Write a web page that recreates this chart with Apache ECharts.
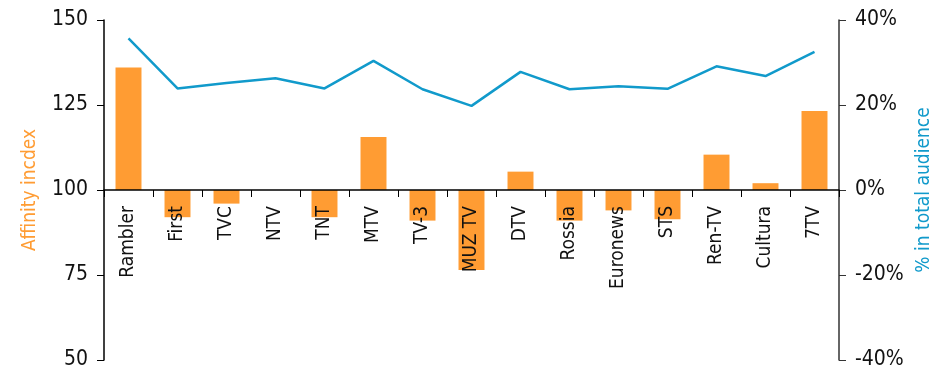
<!DOCTYPE html>
<html>
<head>
    <meta charset="utf-8">
    <title>Affinity index</title>
    <script src="https://cdn.jsdelivr.net/npm/echarts@6/dist/echarts.min.js"></script>
    <style>
        html, body { margin: 0; padding: 0; background: #fff; }
    </style>
</head>
<body>
    <div id="main" style="width: 943px;height:370px;"></div>
    <script type="text/javascript">
        // channels
        var channels = ['Rambler', 'First', 'TVC', 'NTV', 'TNT', 'MTV', 'TV-3', 'MUZ TV', 'DTV', 'Rossia', 'Euronews', 'STS', 'Ren-TV', 'Cultura', '7TV'];
        // affinity index (left axis, baseline 100)
        var affinity = [136, 92, 96, 100, 92, 115.6, 91, 76.5, 105.4, 91, 94, 91.4, 110.4, 102, 123.2];
        // % in total audience (right axis)
        var audienceShare = [35.7, 23.9, 25.2, 26.3, 23.9, 30.4, 23.7, 19.8, 27.8, 23.7, 24.4, 23.8, 29.1, 26.8, 32.5];

        var font = '"Liberation Sans Narrow", "Arial Narrow", "DejaVu Sans Condensed", "Liberation Sans", sans-serif';
        var orange = '#FF9C33';
        var blue = '#119ACB';

        var myChart = echarts.init(document.getElementById('main'));
        var option = {
            animation: false,
            textStyle: { fontFamily: font },
            grid: { left: 104, right: 104, top: 20, bottom: 10, containLabel: false, outerBoundsMode: 'none' },
            xAxis: {
                type: 'category',
                data: channels,
                position: 'bottom',
                offset: -170, // sits on the 100 / 0% line
                z: 5, // labels over the bars
                axisLine: { onZero: false, lineStyle: { color: '#000', width: 1.5 } },
                axisTick: { show: true, length: 7, interval: 0, lineStyle: { color: '#000' } },
                axisLabel: { rotate: 90, interval: 0, margin: 16, fontSize: 19, color: '#111', fontFamily: font }
            },
            yAxis: [{
                type: 'value',
                min: 50, max: 150, interval: 25,
                name: 'Affinity incdex',
                nameLocation: 'middle',
                nameGap: 64,
                nameTextStyle: { color: orange, fontSize: 19, fontFamily: font },
                splitLine: { show: false },
                axisLine: { show: true, lineStyle: { color: '#000', width: 1.5 } },
                axisTick: { show: true, length: 7, lineStyle: { color: '#000' } },
                axisLabel: { margin: 16, fontSize: 21, color: '#111', fontFamily: font }
            }, {
                type: 'value',
                position: 'right',
                min: -40, max: 40, interval: 20,
                name: '% in total audience',
                nameLocation: 'middle',
                nameGap: 66,
                nameTextStyle: { color: blue, fontSize: 19, fontFamily: font },
                splitLine: { show: false },
                axisLine: { show: true, lineStyle: { color: '#333', width: 1.5 } },
                axisTick: { show: true, length: 7, lineStyle: { color: '#333' } },
                axisLabel: { margin: 16, fontSize: 21, color: '#111', fontFamily: font, formatter: '{value}%' }
            }, {
                // hidden axis so bars grow from 100
                type: 'value',
                show: false,
                min: -50, max: 50
            }],
            series: [{
                name: 'Affinity index',
                type: 'bar',
                yAxisIndex: 2,
                barWidth: '53%',
                itemStyle: { color: orange },
                data: affinity.map(function (v) { return v - 100; })
            }, {
                name: '% in total audience',
                type: 'line',
                yAxisIndex: 1,
                symbol: 'none',
                lineStyle: { color: blue, width: 2.5 },
                data: audienceShare
            }]
        };
        myChart.setOption(option);
    </script>
</body>
</html>
